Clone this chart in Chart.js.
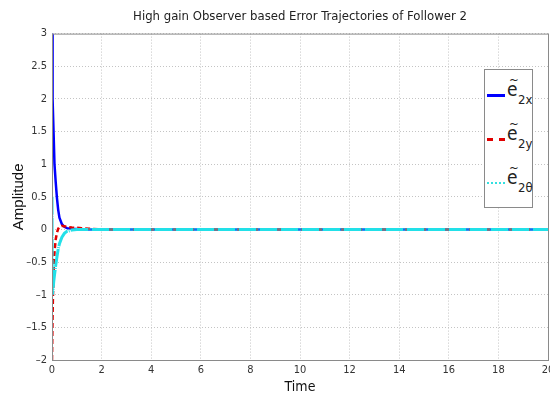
<!DOCTYPE html>
<html>
<head>
<meta charset="utf-8">
<script src="https://cdn.jsdelivr.net/npm/chart.js@4"></script>
<style>
  body { margin: 0; background: #fff; }
  #wrap { position: relative; width: 550px; height: 403px; overflow: hidden; }
  #legendBox {
    position: absolute; left: 484px; top: 69px; width: 47px; height: 137px;
    border: 1px solid #8a8a8a; background: #fff;
    font-family: "DejaVu Sans Condensed", "Liberation Sans", Arial, sans-serif; color: #222;
  }
  .item { position: absolute; left: 2px; height: 30px; width: 46px; }
  .swatch { position: absolute; left: 0; top: 16px; width: 18px; }
  .lbl { position: absolute; left: 20px; top: 0; font-size: 19px; line-height: 22px; }
  .tl { position: absolute; left: 2px; top: -9px; font-size: 13px; }
  .sb { position: absolute; left: 11px; top: 11px; font-size: 13px; }
</style>
</head>
<body>
<div id="wrap">
  <canvas id="chartCanvas" width="550" height="403"></canvas>
  <div id="legendBox">
    <div class="item" style="top:8px"><div class="swatch" style="border-top:3px solid #0000ff"></div><div class="lbl">e<span class="tl">~</span><span class="sb">2x</span></div></div>
    <div class="item" style="top:52px"><div class="swatch" style="border-top:3px dashed #e00000"></div><div class="lbl">e<span class="tl">~</span><span class="sb">2y</span></div></div>
    <div class="item" style="top:96px"><div class="swatch" style="border-top:2px dotted #33e0e0"></div><div class="lbl">e<span class="tl">~</span><span class="sb">2θ</span></div></div>
  </div>
</div>
<script>
// time samples (s) and error trajectories
const timeValues = [0, 0.01, 0.02, 0.04, 0.07, 0.1, 0.15, 0.2, 0.25, 0.3, 0.4, 0.5, 0.6, 0.8, 1.0, 1.2, 1.5, 2, 20];
const e2x = [3, 2.85, 2.7, 2.0, 1.4, 1.0, 0.72, 0.48, 0.3, 0.18, 0.08, 0.04, 0.02, 0.01, 0.005, 0, 0, 0, 0];
const e2y = [-2, -1.7, -1.4, -1.0, -0.6, -0.35, -0.15, -0.05, 0.01, 0.04, 0.055, 0.05, 0.04, 0.03, 0.025, 0.02, 0.01, 0, 0];
const e2theta = [0.5, -1.0, -0.98, -0.92, -0.8, -0.7, -0.55, -0.42, -0.3, -0.22, -0.12, -0.06, -0.03, -0.01, 0, 0, 0, 0, 0];

const xTickStep = 2;
const yTickStep = 0.5;
const xRange = [0, 20];
const yRange = [-2, 3];

function toPoints(vals) {
    return vals.map((v, i) => ({ x: timeValues[i], y: v }));
}

const fontName = '"DejaVu Sans Condensed", "Liberation Sans", Arial, sans-serif';

// MATLAB style box around the axes
const boxPlugin = {
    id: 'boxPlugin',
    afterDraw(chart) {
        const a = chart.chartArea;
        const ctx = chart.ctx;
        ctx.save();
        ctx.strokeStyle = '#8a8a8a';
        ctx.lineWidth = 1;
        ctx.strokeRect(a.left + 0.5, a.top + 0.5, a.right - a.left, a.bottom - a.top);
        ctx.restore();
    }
};

const ctx = document.getElementById('chartCanvas').getContext('2d');
new Chart(ctx, {
    type: 'line',
    data: {
        datasets: [
            {
                label: 'e2x',
                data: toPoints(e2x),
                borderColor: '#0000ff',
                borderWidth: 2.5,
                pointRadius: 0,
                tension: 0,
                order: 2
            },
            {
                label: 'e2y',
                data: toPoints(e2y),
                borderColor: '#e00000',
                borderWidth: 2.5,
                borderDash: [5, 3],
                pointRadius: 0,
                tension: 0,
                order: 1
            },
            {
                label: 'e2theta',
                data: toPoints(e2theta),
                borderColor: '#22e0e8',
                borderWidth: 3,
                borderDash: [18, 1, 1, 1],
                pointRadius: 0,
                tension: 0,
                order: 0
            }
        ]
    },
    options: {
        responsive: false,
        animation: false,
        layout: { padding: { left: 0, right: 2, top: 0, bottom: 0 } },
        plugins: {
            legend: { display: false },
            tooltip: { enabled: false },
            title: {
                display: true,
                fullSize: false,
                text: 'High gain Observer based Error Trajectories of Follower 2',
                color: '#222',
                font: { family: fontName, size: 13, weight: 'normal' },
                padding: { top: 9, bottom: 9 }
            }
        },
        scales: {
            x: {
                type: 'linear',
                min: xRange[0],
                max: xRange[1],
                ticks: {
                    stepSize: xTickStep,
                    color: '#333',
                    font: { family: fontName, size: 11 },
                    padding: 4,
                    maxRotation: 0
                },
                grid: { color: '#c4c4c4', tickLength: 0 },
                border: { display: false, dash: [1, 2] },
                title: {
                    display: true,
                    text: 'Time',
                    color: '#111',
                    font: { family: fontName, size: 14 },
                    padding: { top: 0, bottom: 7 }
                },
                afterFit(scale) {
                    scale.height = 43;
                    scale.paddingLeft = 0;
                    scale.paddingRight = 0;
                }
            },
            y: {
                min: yRange[0],
                max: yRange[1],
                ticks: {
                    stepSize: yTickStep,
                    color: '#333',
                    font: { family: fontName, size: 11 },
                    padding: 5,
                    callback: v => String(v).replace('-', '\u2013')
                },
                grid: { color: '#c4c4c4', tickLength: 0 },
                border: { display: false, dash: [1, 2] },
                title: {
                    display: true,
                    text: 'Amplitude',
                    color: '#111',
                    font: { family: 'Liberation Sans, Arial, sans-serif', size: 15 },
                    padding: { top: 10, bottom: 0 }
                },
                afterFit(scale) {
                    scale.width = 52;
                    scale.paddingTop = 0;
                    scale.paddingBottom = 0;
                }
            }
        }
    },
    plugins: [boxPlugin]
});
</script>
</body>
</html>
